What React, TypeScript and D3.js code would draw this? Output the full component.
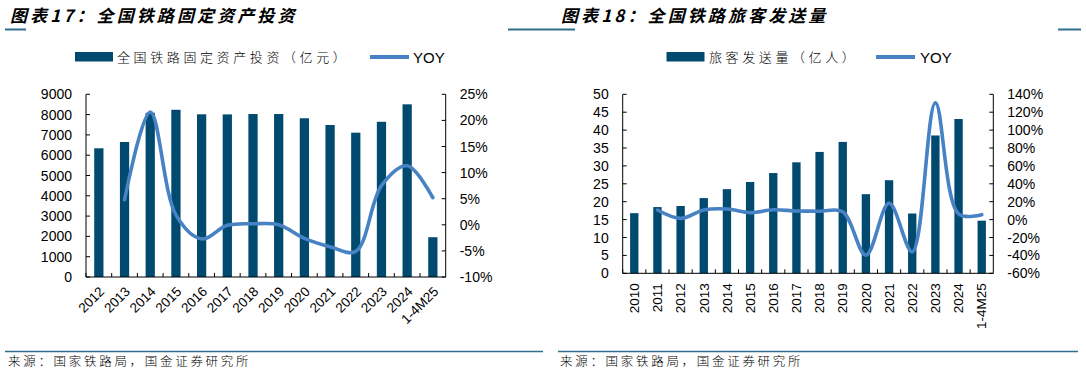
import * as d3 from "d3";

// 图表17 数据
const cats1 = ["2012", "2013", "2014", "2015", "2016", "2017", "2018", "2019", "2020", "2021", "2022", "2023", "2024", "1-4M25"];
const invest = [6340, 6650, 8088, 8238, 8015, 8010, 8028, 8029, 7819, 7489, 7109, 7645, 8506, 1960];
const investYoy = [null, 4.8, 21.6, 1.9, -2.7, -0.1, 0.2, 0.0, -2.6, -4.2, -5.1, 7.5, 11.3, 5.2];
const leftTicks1 = [0, 1000, 2000, 3000, 4000, 5000, 6000, 7000, 8000, 9000];
const rightTicks1 = [-10, -5, 0, 5, 10, 15, 20, 25];

// 图表18 数据
const cats2 = ["2010", "2011", "2012", "2013", "2014", "2015", "2016", "2017", "2018", "2019", "2020", "2021", "2022", "2023", "2024", "1-4M25"];
const passengers = [16.8, 18.5, 18.8, 21.0, 23.5, 25.5, 28.0, 31.0, 33.9, 36.7, 22.1, 26.0, 16.7, 38.5, 43.1, 14.7];
const passengerYoy = [null, 10.7, 1.4, 10.8, 11.9, 7.8, 11.0, 9.6, 9.4, 8.8, -39.8, 18.2, -36.0, 130.4, 6.5, 5.5];
const leftTicks2 = [0, 5, 10, 15, 20, 25, 30, 35, 40, 45, 50];
const rightTicks2 = [-60, -40, -20, 0, 20, 40, 60, 80, 100, 120, 140];

const BAR = "#004a70";
const LINE = "#4682c4";
const RULE = "#2f6d8f";
const CJK = "'Noto Sans CJK SC', 'Noto Sans', sans-serif";
const NUM = "'Liberation Sans', Arial, sans-serif";

type Props = {
  title: string;
  titleX: number;
  rules: [number, number][];
  sourceLine: [number, number];
  sourceX: number;
  legendText: string;
  legendX: [number, number, number, number]; // rect, text, line, yoy
  cats: string[];
  bars: number[];
  yoy: (number | null)[];
  leftTicks: number[];
  rightTicks: number[];
  left: number;
  right: number;
  top: number;
  bottom: number;
  rotate: number;
};

function ComboChart(p: Props) {
  const x = d3
    .scaleBand<string>()
    .domain(p.cats)
    .range([p.left, p.right])
    .paddingInner(0.64)
    .paddingOuter(0.32);
  const step = x.step();
  const yL = d3
    .scaleLinear()
    .domain(d3.extent(p.leftTicks) as [number, number])
    .range([p.bottom, p.top]);
  const yR = d3
    .scaleLinear()
    .domain(d3.extent(p.rightTicks) as [number, number])
    .range([p.bottom, p.top]);

  const pts = p.cats.map((c, i) => ({ c, v: p.yoy[i] }));
  const line = d3
    .line<{ c: string; v: number | null }>()
    .defined((d) => d.v !== null)
    .x((d) => (x(d.c) as number) + x.bandwidth() / 2)
    .y((d) => yR(d.v as number))
    .curve(d3.curveCatmullRom.alpha(0.5));

  const [rx, tx, lx, yx] = p.legendX;

  return (
    <g>
      <text
        x={p.titleX}
        y={22}
        fontFamily={CJK}
        fontSize={17}
        fontWeight="bold"
        fontStyle="italic"
        letterSpacing={3.1}
      >
        {p.title}
      </text>
      {p.rules.map(([a, b], i) => (
        <line key={i} x1={a} x2={b} y1={29.5} y2={29.5} stroke={RULE} strokeWidth={2} />
      ))}

      {/* 图例 */}
      <rect x={rx} y={52} width={38} height={9.5} fill={BAR} />
      <text x={tx} y={62} fontFamily={CJK} fontSize={13} fontWeight={300} letterSpacing={3.6}>
        {p.legendText}
      </text>
      <line x1={lx} x2={lx + 39} y1={57} y2={57} stroke={LINE} strokeWidth={4} />
      <text x={yx} y={62.5} fontFamily={NUM} fontSize={15}>
        YOY
      </text>

      {/* 柱 */}
      {p.cats.map((c, i) => (
        <rect
          key={c}
          x={x(c)}
          y={yL(p.bars[i])}
          width={x.bandwidth()}
          height={p.bottom - yL(p.bars[i])}
          fill={BAR}
        />
      ))}

      {/* 坐标轴 */}
      <g stroke="#000" strokeWidth={1} fill="none">
        <line x1={p.left} x2={p.left} y1={p.top} y2={p.bottom} />
        <line x1={p.right} x2={p.right} y1={p.top} y2={p.bottom} />
        <line x1={p.left} x2={p.right} y1={p.bottom} y2={p.bottom} />
        {p.leftTicks.map((t) => (
          <line key={"l" + t} x1={p.left} x2={p.left + 4} y1={yL(t)} y2={yL(t)} />
        ))}
        {p.rightTicks.map((t) => (
          <line key={"r" + t} x1={p.right - 4} x2={p.right} y1={yR(t)} y2={yR(t)} />
        ))}
        {p.cats.map((c, i) => (
          <line
            key={"x" + c}
            x1={p.left + i * step}
            x2={p.left + i * step}
            y1={p.bottom}
            y2={p.bottom - 4}
          />
        ))}
      </g>

      <path d={line(pts) ?? ""} fill="none" stroke={LINE} strokeWidth={3.6} strokeLinecap="round" />

      <g fontFamily={NUM} fontSize={14} fill="#000">
        {p.leftTicks.map((t) => (
          <text key={"lt" + t} x={p.left - 14} y={yL(t)} dy="0.36em" textAnchor="end">
            {t}
          </text>
        ))}
        {p.rightTicks.map((t) => (
          <text key={"rt" + t} x={p.right + 14} y={yR(t)} dy="0.36em" textAnchor="start">
            {t + "%"}
          </text>
        ))}
      </g>
      <g fontFamily={NUM} fontSize={13.5} fill="#000">
        {p.cats.map((c) => {
          const cx = (x(c) as number) + x.bandwidth() / 2;
          const tr =
            p.rotate === -90
              ? `translate(${cx},${p.bottom + 10}) rotate(-90)`
              : `translate(${cx + 3},${p.bottom + 12}) rotate(${p.rotate})`;
          return (
            <text key={"xt" + c} transform={tr} textAnchor="end" dy="0.35em">
              {c}
            </text>
          );
        })}
      </g>

      {/* 来源 */}
      <line
        x1={p.sourceLine[0]}
        x2={p.sourceLine[1]}
        y1={351.5}
        y2={351.5}
        stroke={RULE}
        strokeWidth={1.5}
      />
      <text x={p.sourceX} y={366} fontFamily={CJK} fontSize={12.5} fontWeight={300} letterSpacing={2.7}>
        来源：国家铁路局，国金证券研究所
      </text>
    </g>
  );
}

export default function App() {
  return (
    <div style={{ position: "absolute", left: 0, top: 0 }}>
      <svg width={1086} height={372} viewBox="0 0 1086 372" style={{ display: "block", background: "#fff" }}>
        <ComboChart
          title="图表17：全国铁路固定资产投资"
          titleX={10}
          rules={[[5, 26], [508, 543]]}
          sourceLine={[5, 543]}
          sourceX={8}
          legendText="全国铁路固定资产投资（亿元）"
          legendX={[75, 117, 370, 413]}
          cats={cats1}
          bars={invest}
          yoy={investYoy}
          leftTicks={leftTicks1}
          rightTicks={rightTicks1}
          left={86}
          right={445.7}
          top={94.3}
          bottom={277}
          rotate={-45}
        />
        <ComboChart
          title="图表18：全国铁路旅客发送量"
          titleX={561}
          rules={[[543, 575], [1058, 1081]]}
          sourceLine={[558, 1078]}
          sourceX={560}
          legendText="旅客发送量（亿人）"
          legendX={[666.5, 709, 876, 920]}
          cats={cats2}
          bars={passengers}
          yoy={passengerYoy}
          leftTicks={leftTicks2}
          rightTicks={rightTicks2}
          left={622.7}
          right={993.3}
          top={94.3}
          bottom={273.3}
          rotate={-90}
        />
      </svg>
    </div>
  );
}
